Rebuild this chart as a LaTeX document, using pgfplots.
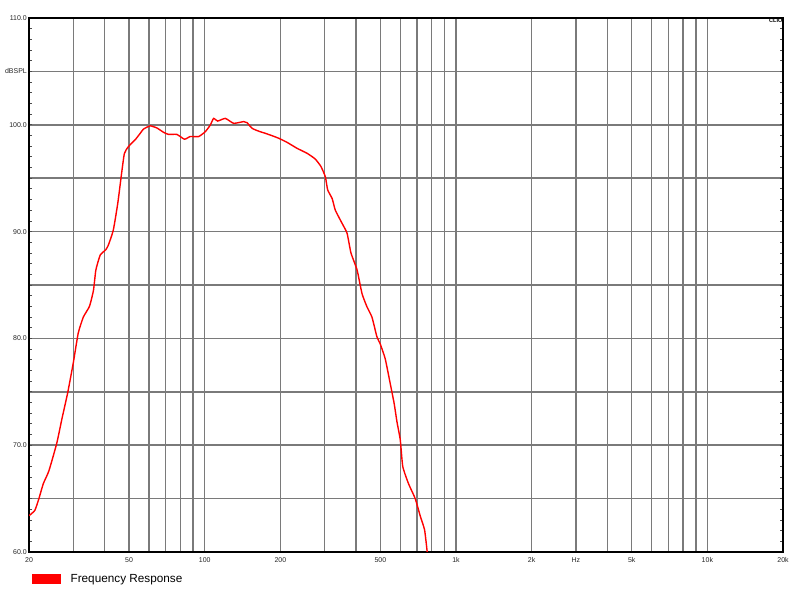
\documentclass[border=0pt]{standalone}
\usepackage{pgfplots}
\pgfplotsset{compat=1.18}
\usepackage{fontspec}
\setmainfont{Liberation Sans}

\pgfplotstableread{
f     spl
20    63.4
21.1  63.9
21.9  65.0
22.8  66.4
24.0  67.6
25.8  70.2
27.0  72.4
28.5  74.9
30.0  77.7
31.4  80.5
32.9  82.0
34.8  83.0
36.1  84.5
36.9  86.4
38.4  87.8
40.4  88.3
41.4  88.75
43.3  90.15
45.1  92.65
46.5  95.1
47.9  97.3
49.7  97.95
52.9  98.6
55.4  99.2
57.1  99.6
60.7  99.9
64.6  99.7
68.6  99.3
71.8  99.1
77.5  99.1
83.1  98.65
87.6  98.9
94.6  98.9
100.5 99.35
105.3 99.98
108.5 100.6
112.6 100.35
120.8 100.6
130.4 100.14
143   100.3
147.4 100.2
154.4 99.67
164.2 99.4
174.4 99.2
185.4 98.98
197   98.74
212.6 98.36
233   97.8
255.6 97.33
275.2 96.8
290   96.1
302   95.14
308.6 93.9
321.4 93.1
331   92.0
352   90.78
368.6 89.84
382   88.0
404   86.4
422.6 84.2
442   82.97
462.8 82.0
484.4 80.16
499   79.5
522.6 78.1
547   75.8
567.4 73.9
582   72.2
600   70.5
614   68.0
647   66.4
688   65.0
722   63.3
750   62.06
768   60.0
}\fr

\begin{document}
\begin{tikzpicture}
\useasboundingbox (-29bp,-41bp) rectangle (771bp,552bp);
\fill[white] (-29bp,-41bp) rectangle (771bp,552bp);
\begin{axis}[
  at={(0,0)}, anchor=south west,
  scale only axis, width=754bp, height=534bp,
  xmode=log, xmin=20, xmax=20000, ymin=60, ymax=110,
  xtick={20,30,40,50,60,70,80,90,100,200,300,400,500,600,700,800,900,
         1000,2000,3000,4000,5000,6000,7000,8000,9000,10000,20000},
  xticklabels={20,,,50,,,,,100,200,,,500,,,,,1k,2k,Hz,,5k,,,,,10k,20k},
  minor xtick={},
  ytick={60,65,...,110},
  yticklabels={60.0,,70.0,,80.0,,90.0,,100.0,dBSPL,110.0},
  minor ytick={60,61,...,110},
  major tick length=0pt, minor tick length=3bp,
  minor tick style={black!70, line width=0.8bp},
  grid=major,
  major grid style={black!52, line width=1.5bp},
  axis line style={black, line width=1.4bp},
  ticklabel style={font=\fontsize{7}{8}\selectfont, text=black!85},
  every x tick label/.append style={inner sep=0pt, yshift=-5bp,
    text height=5bp, text depth=0pt},
  every y tick label/.append style={inner sep=0pt, xshift=-2bp},
  legend style={at={(0,0)}, anchor=west, xshift=3bp, yshift=-27bp,
    draw=none, fill=none, inner sep=0pt, column sep=8bp,
    font=\fontsize{11.8}{13}\selectfont},
  legend image code/.code={\fill[red] (0bp,-4.5bp) rectangle (27bp,4.5bp);},
  legend cell align=left,
]
\addplot[red, line width=1.4bp, smooth, tension=0.3] table[x=f, y=spl] {\fr};
\addlegendentry{Frequency Response}
\node[anchor=north east, inner sep=0.5bp, font=\bfseries\fontsize{5.5}{5.5}\selectfont]
  at (rel axis cs:1,1) {CLIO};
\end{axis}
\end{tikzpicture}
\end{document}
